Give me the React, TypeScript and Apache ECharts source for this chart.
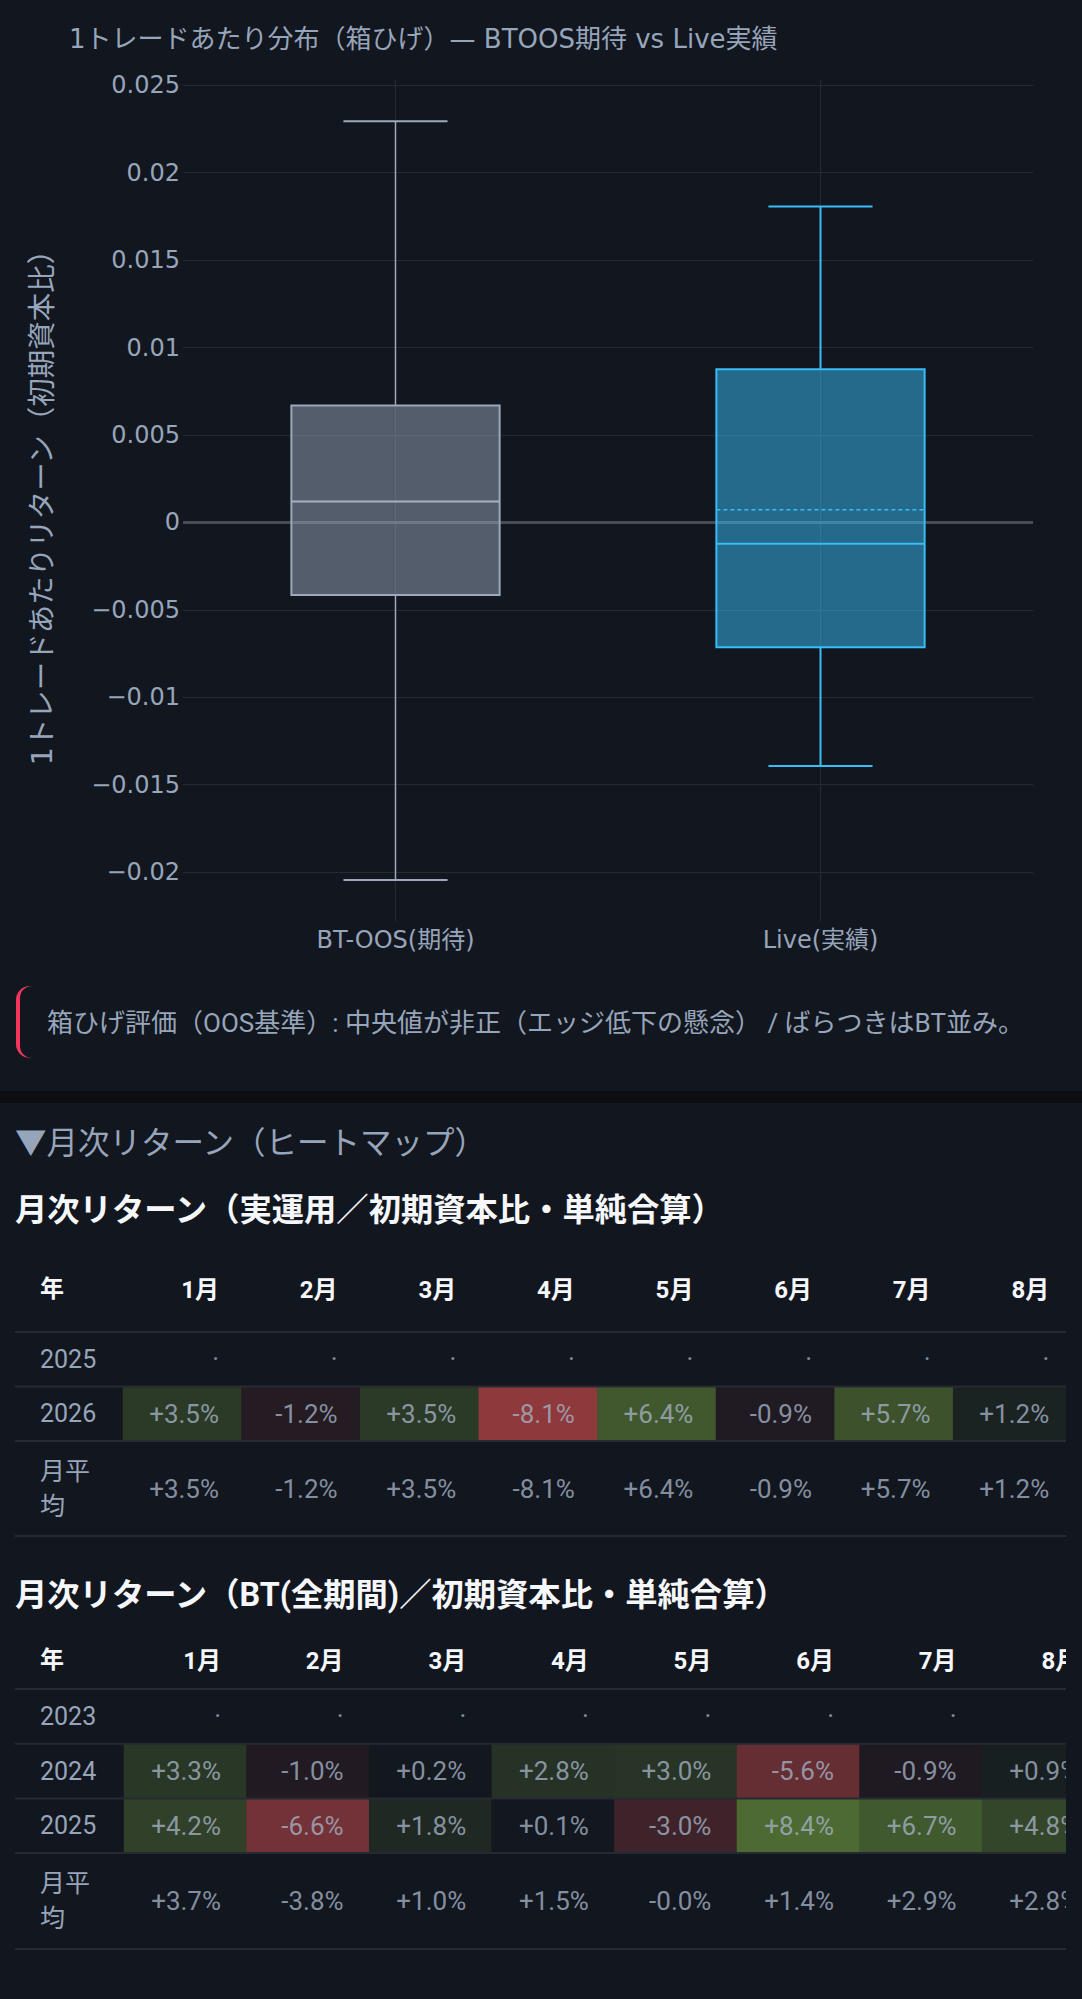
import React, { useEffect, useRef } from 'react';
import * as echarts from 'echarts';

// ---------- data: box plot (per-trade return, ratio to initial capital) ----------
const boxCategories = ['BT-OOS(期待)', 'Live(実績)'];
const boxLowerWhisker = [-0.02045, -0.01394];
const boxQ1 = [-0.00416, -0.00714];
const boxMedian = [0.00119, -0.00123];
const boxQ3 = [0.00669, 0.00875];
const boxUpperWhisker = [0.02294, 0.01807];
const boxMean: (number | null)[] = [null, 0.00072];
const yAxisMin = -0.0228;
const yAxisMax = 0.0253;
const yTickStep = 0.005;

// ---------- data: monthly heatmaps (%) ----------
const monthLabels = ['1月', '2月', '3月', '4月', '5月', '6月', '7月', '8月'];

const liveYears = ['2025', '2026'];
const live2025: (number | null)[] = [null, null, null, null, null, null, null, null];
const live2026 = [3.5, -1.2, 3.5, -8.1, 6.4, -0.9, 5.7, 1.2];
const liveAvg = [3.5, -1.2, 3.5, -8.1, 6.4, -0.9, 5.7, 1.2];

const btYears = ['2023', '2024', '2025'];
const bt2023: (number | null)[] = [null, null, null, null, null, null, null, null];
const bt2024 = [3.3, -1.0, 0.2, 2.8, 3.0, -5.6, -0.9, 0.9];
const bt2025 = [4.2, -6.6, 1.8, 0.1, -3.0, 8.4, 6.7, 4.8];
const btAvg = [3.7, -3.8, 1.0, 1.5, -0.02, 1.4, 2.9, 2.8];

// ---------- texts ----------
const chartTitle = '1トレードあたり分布（箱ひげ）— BTOOS期待 vs Live実績';
const yAxisTitle = '1トレードあたりリターン（初期資本比）';
const calloutText = '箱ひげ評価（OOS基準）: 中央値が非正（エッジ低下の懸念） / ばらつきはBT並み。';
const sectionText = '▼月次リターン（ヒートマップ）';
const table1Title = '月次リターン（実運用／初期資本比・単純合算）';
const table2Title = '月次リターン（BT(全期間)／初期資本比・単純合算）';
const yearHeader = '年';
const avgRowLabel = '月平均';

// ---------- styles / layout ----------
const PAGE_W = 1082;
const CHART_W = 1140;
const PAGE_H = 1999;
const BG = '#12161f';
const BAND = '#0c0e12';
const TEXT = '#97a5ba';
const CELL_TEXT = '#a3b0c2';
const WHITE = '#f5f7fa';
const GRID = '#262a33';
const SEP = '#252a33';
const PLOT_FONT = '"DejaVu Sans", "Noto Sans CJK JP", sans-serif';
const UI_FONT = 'Roboto, "Noto Sans CJK JP", sans-serif';
const RED_FULL = '#8e3a3d';
const GREEN_FULL = '#4d6a32';

const boxStyles = [
  { fill: 'rgba(148,163,184,0.5)', stroke: '#9ca8bb', median: '#a7b2c4', whisker: 1.5 },
  { fill: 'rgba(56,189,248,0.5)', stroke: '#38bdf8', median: '#38bdf8', whisker: 2 },
];

const T1 = { left: 123, cellW: 118.6, top: 1332, rowH: 54.5, avgH: 95, headerMargin: 30, textW: 73.4 };
const T2 = { left: 124, cellW: 122.6, top: 1689, rowH: 54.7, avgH: 96, headerMargin: 16, textW: 71.4 };

const fmtPct = (v: number | null) =>
  v === null ? '·' : (v >= 0 ? '+' : '') + v.toFixed(1) + '%';

const fmtTick = (v: number) => {
  const k = v / yTickStep;
  if (Math.abs(k - Math.round(k)) > 1e-6) return '';
  const s = String(parseFloat(Math.abs(v).toFixed(4)));
  return v < -1e-12 ? '−' + s : s;
};

function heatCells(rows: (number | null)[][]) {
  const out: number[][] = [];
  rows.forEach((r, yi) =>
    r.forEach((v, xi) => {
      if (v !== null) out.push([xi, yi, v]);
    })
  );
  return out;
}

function labelCells(rows: (number | null)[][]) {
  const out: { name: string; value: number[] }[] = [];
  rows.forEach((r, yi) => r.forEach((v, xi) => out.push({ name: fmtPct(v), value: [xi, yi] })));
  return out;
}

function maxAbs(rows: (number | null)[][]) {
  let m = 0;
  rows.forEach((r) => r.forEach((v) => { if (v !== null) m = Math.max(m, Math.abs(v)); }));
  return m;
}

function tableParts(
  t: typeof T1,
  years: string[],
  rows: (number | null)[][],
  avg: number[],
  gridBase: number
) {
  const width = t.cellW * monthLabels.length;
  const grids = [
    { left: t.left, top: t.top, width, height: t.rowH * years.length, outerBoundsMode: 'none', containLabel: false },
    { left: t.left, top: t.top + t.rowH * years.length, width, height: t.avgH, outerBoundsMode: 'none', containLabel: false },
  ];
  const xAxes = [
    {
      type: 'category', gridIndex: gridBase, position: 'top', data: monthLabels,
      axisLine: { show: false }, axisTick: { show: false }, splitLine: { show: false },
      axisLabel: {
        interval: 0, margin: t.headerMargin,
        formatter: (v: string) => `{h|${v}}`,
        rich: { h: { width: t.textW, align: 'right', fontSize: 24, fontWeight: 'bold', color: WHITE, fontFamily: UI_FONT } },
      },
    },
    { type: 'category', gridIndex: gridBase + 1, data: monthLabels, show: false },
  ];
  const yAxes = [
    {
      type: 'category', gridIndex: gridBase, data: years, inverse: true,
      axisLine: { show: false }, axisTick: { show: false }, splitLine: { show: false },
      axisLabel: { align: 'left', margin: t.left - 40, color: TEXT, fontSize: 25, fontFamily: UI_FONT },
    },
    {
      type: 'category', gridIndex: gridBase + 1, data: [avgRowLabel],
      axisLine: { show: false }, axisTick: { show: false }, splitLine: { show: false },
      axisLabel: {
        align: 'left', margin: t.left - 40, color: TEXT, fontSize: 25, lineHeight: 35, fontFamily: UI_FONT,
        formatter: (v: string) => v.slice(0, 2) + '\n' + v.slice(2),
      },
    },
  ];
  const labelStyle = {
    show: true, position: 'inside',
    formatter: (p: any) => `{v|${p.name}}`,
    rich: { v: { width: t.textW, align: 'right', fontSize: 26, color: CELL_TEXT, fontFamily: UI_FONT } },
  };
  const series = [
    {
      type: 'heatmap', xAxisIndex: gridBase, yAxisIndex: gridBase, data: heatCells(rows),
      itemStyle: { borderWidth: 0 }, label: { show: false }, emphasis: { disabled: true }, silent: true, z: 2,
    },
    {
      type: 'scatter', xAxisIndex: gridBase, yAxisIndex: gridBase, data: labelCells(rows),
      symbolSize: 1, itemStyle: { color: 'rgba(0,0,0,0)' }, label: labelStyle, silent: true, z: 4,
    },
    {
      type: 'scatter', xAxisIndex: gridBase + 1, yAxisIndex: gridBase + 1, data: labelCells([avg]),
      symbolSize: 1, itemStyle: { color: 'rgba(0,0,0,0)' }, label: labelStyle, silent: true, z: 4,
    },
  ];
  const m = maxAbs(rows);
  const visualMap = {
    type: 'continuous', show: false, min: -m, max: m, dimension: 2,
    inRange: { color: [RED_FULL, BG, GREEN_FULL] },
  };
  const ys: number[] = [];
  for (let i = 0; i <= years.length; i++) ys.push(t.top + t.rowH * i);
  ys.push(t.top + t.rowH * years.length + t.avgH);
  const lines = ys.map((y) => ({
    type: 'line', z: 50, silent: true,
    shape: { x1: 15, y1: y, x2: 1066, y2: y },
    style: { stroke: SEP, lineWidth: 2 },
  }));
  return { grids, xAxes, yAxes, series, visualMap, lines };
}

function buildOption() {
  const boxData = boxCategories.map((_, i) => [
    i, boxLowerWhisker[i], boxQ1[i], boxMedian[i], boxQ3[i], boxUpperWhisker[i],
    boxMean[i] === null ? NaN : (boxMean[i] as number),
  ]);

  const t1 = tableParts(T1, liveYears, [live2025, live2026], liveAvg, 1);
  const t2 = tableParts(T2, btYears, [bt2023, bt2024, bt2025], btAvg, 3);

  const renderBox = (params: any, api: any) => {
    const idx = api.value(0);
    const st = boxStyles[idx];
    const band = api.size([1, 0])[0];
    const bw = band * 0.49;
    const cw = bw / 2;
    const cx = api.coord([idx, 0])[0];
    const y = (v: number) => api.coord([idx, v])[1];
    const yLW = y(api.value(1));
    const yQ1 = y(api.value(2));
    const yMed = y(api.value(3));
    const yQ3 = y(api.value(4));
    const yUW = y(api.value(5));
    const mean = api.value(6);
    const children: any[] = [
      { type: 'line', shape: { x1: cx, y1: yQ3, x2: cx, y2: yUW }, style: { stroke: st.stroke, lineWidth: st.whisker } },
      { type: 'line', shape: { x1: cx, y1: yQ1, x2: cx, y2: yLW }, style: { stroke: st.stroke, lineWidth: st.whisker } },
      { type: 'line', shape: { x1: cx - cw / 2, y1: yUW, x2: cx + cw / 2, y2: yUW }, style: { stroke: st.stroke, lineWidth: 2 } },
      { type: 'line', shape: { x1: cx - cw / 2, y1: yLW, x2: cx + cw / 2, y2: yLW }, style: { stroke: st.stroke, lineWidth: 2 } },
      { type: 'rect', shape: { x: cx - bw / 2, y: yQ3, width: bw, height: yQ1 - yQ3 }, style: { fill: st.fill, stroke: st.stroke, lineWidth: 2 } },
      { type: 'line', shape: { x1: cx - bw / 2, y1: yMed, x2: cx + bw / 2, y2: yMed }, style: { stroke: st.median, lineWidth: 2 } },
    ];
    if (isFinite(mean)) {
      const yM = y(mean);
      children.push({
        type: 'line', shape: { x1: cx - bw / 2, y1: yM, x2: cx + bw / 2, y2: yM },
        style: { stroke: st.stroke, lineWidth: 1.5, lineDash: [4, 3] },
      });
    }
    return { type: 'group', children };
  };

  const textEl = (text: string, x: number, y: number, size: number, color: string, weight = 'normal', family = UI_FONT) => ({
    type: 'text', z: 60, silent: true,
    style: {
      text, x, y, fill: color, fontSize: size, fontWeight: weight, fontFamily: family,
      align: 'left', verticalAlign: 'middle', textAlign: 'left', textVerticalAlign: 'middle',
    },
  });

  return {
    animation: false,
    backgroundColor: BG,
    title: {
      text: chartTitle, left: 64, top: 21,
      textStyle: { color: TEXT, fontSize: 26, fontWeight: 'normal', fontFamily: PLOT_FONT },
    },
    grid: [
      { left: 183, top: 80, width: 850, height: 841, outerBoundsMode: 'none', containLabel: false },
      ...t1.grids,
      ...t2.grids,
    ],
    xAxis: [
      {
        type: 'category', gridIndex: 0, data: boxCategories,
        axisLine: { show: false }, axisTick: { show: false }, splitLine: { show: false },
        axisLabel: { color: TEXT, fontSize: 24, margin: 7, fontFamily: PLOT_FONT },
      },
      ...t1.xAxes,
      ...t2.xAxes,
    ],
    yAxis: [
      {
        type: 'value', gridIndex: 0, min: yAxisMin, max: yAxisMax, splitNumber: 10,
        axisLine: { show: false }, axisTick: { show: false },
        axisLabel: { color: TEXT, fontSize: 24, margin: 3, fontFamily: PLOT_FONT, formatter: fmtTick, showMinLabel: false, showMaxLabel: false },
        splitLine: { show: true, showMinLine: false, showMaxLine: false, lineStyle: { color: GRID, width: 1 } },
        name: yAxisTitle, nameLocation: 'middle', nameGap: 126, nameRotate: 90,
        nameTextStyle: { color: TEXT, fontSize: 28.5, fontFamily: PLOT_FONT },
      },
      ...t1.yAxes,
      ...t2.yAxes,
    ],
    visualMap: [
      { ...t1.visualMap, seriesIndex: 2 },
      { ...t2.visualMap, seriesIndex: 5 },
    ],
    series: [
      {
        type: 'line', xAxisIndex: 0, yAxisIndex: 0, data: [], z: 1, silent: true,
        markLine: {
          z: 1, silent: true, symbol: 'none', label: { show: false }, animation: false,
          lineStyle: { color: GRID, width: 1, type: 'solid' },
          data: [
            { xAxis: boxCategories[0] },
            { xAxis: boxCategories[1] },
            { yAxis: 0, lineStyle: { color: '#474b53', width: 3, type: 'solid' } },
          ],
        },
      },
      {
        type: 'custom', xAxisIndex: 0, yAxisIndex: 0, data: boxData, renderItem: renderBox,
        encode: { x: 0, y: [1, 2, 3, 4, 5] }, z: 3, silent: true,
      },
      ...t1.series,
      ...t2.series,
    ],
    graphic: [
      { type: 'rect', z: 40, silent: true, shape: { x: 0, y: 1091, width: CHART_W, height: 12 }, style: { fill: BAND } },
      { type: 'rect', z: 40, silent: true, shape: { x: 16, y: 986, width: 60, height: 72, r: 14 }, style: { fill: '#f5365c' } },
      { type: 'rect', z: 41, silent: true, shape: { x: 20, y: 986, width: 1040, height: 72, r: [12, 0, 0, 12] }, style: { fill: BG } },
      textEl(calloutText, 47, 1023, 26, TEXT),
      textEl(sectionText, 15, 1143, 31.5, TEXT),
      textEl(table1Title, 15, 1210, 32.3, WHITE, 'bold'),
      textEl(table2Title, 15, 1595, 32.3, WHITE, 'bold'),
      textEl(yearHeader, 40, 1289, 24, WHITE, 'bold'),
      textEl(yearHeader, 40, 1660, 24, WHITE, 'bold'),
      ...t1.lines,
      ...t2.lines,
      { type: 'rect', z: 100, silent: true, shape: { x: 1066, y: 1240, width: CHART_W - 1066, height: PAGE_H - 1240 }, style: { fill: BG } },
    ],
  };
}

export default function App() {
  const ref = useRef<HTMLDivElement>(null);
  useEffect(() => {
    document.body.style.margin = '0';
    document.body.style.background = BG;
    document.body.style.overflow = 'hidden';
    const chart = echarts.init(ref.current as HTMLDivElement, null, { renderer: 'svg' });
    chart.setOption(buildOption() as any);
    return () => chart.dispose();
  }, []);
  return (
    <div style={{ width: PAGE_W, height: PAGE_H, overflow: 'hidden', background: BG }}>
      <div ref={ref} style={{ width: CHART_W, height: PAGE_H, background: BG }} />
    </div>
  );
}
